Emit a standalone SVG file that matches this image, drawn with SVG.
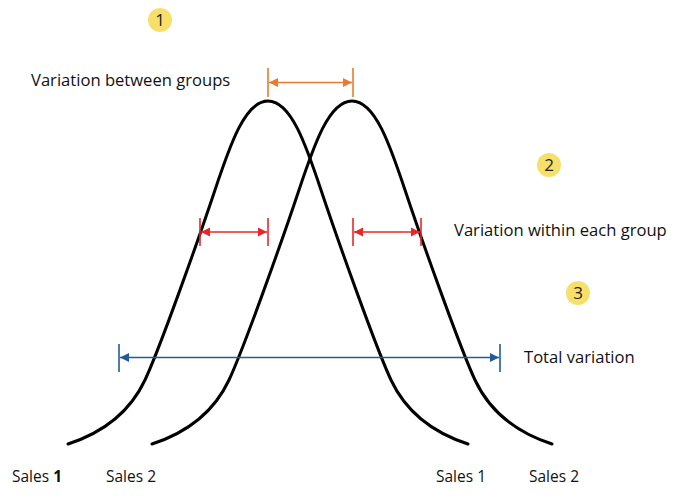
<svg xmlns="http://www.w3.org/2000/svg" width="680" height="500" viewBox="0 0 680 500">
<defs>
<style>
.curve{fill:none;stroke:#000;stroke-width:3;stroke-linecap:round}
.lbl{font-family:"Open Sans","Liberation Sans",sans-serif;font-size:16.6px;fill:#111}
.sales{font-family:"Open Sans","Liberation Sans",sans-serif;font-size:15.5px;fill:#111}
.badge{fill:#F7E06A}
.num{font-family:"Open Sans","Liberation Sans",sans-serif;font-size:17px;fill:#222;text-anchor:middle}
.or{stroke:#EC7A2E;stroke-width:1.6;fill:none}
.rd{stroke:#E8262A;stroke-width:1.6;fill:none}
.bl{stroke:#1F5C99;stroke-width:1.6;fill:none}
</style>
<marker id="ahO" viewBox="0 0 10 10" refX="10" refY="5" markerWidth="9" markerHeight="10" markerUnits="userSpaceOnUse" orient="auto-start-reverse"><path d="M0,0L10,5L0,10z" fill="#EC7A2E"/></marker>
<marker id="ahR" viewBox="0 0 10 10" refX="10" refY="5" markerWidth="9" markerHeight="10" markerUnits="userSpaceOnUse" orient="auto-start-reverse"><path d="M0,0L10,5L0,10z" fill="#E8262A"/></marker>
<marker id="ahB" viewBox="0 0 10 10" refX="10" refY="5" markerWidth="9" markerHeight="10" markerUnits="userSpaceOnUse" orient="auto-start-reverse"><path d="M0,0L10,5L0,10z" fill="#1F5C99"/></marker>
</defs>
<rect width="680" height="500" fill="#fff"/>

<g id="curve1">
<path class="curve" d="M68,444 C105,432 130,412 145,380 C160,348 200,235 215,190 C230,145 245,101 268,101 C291,101 306,145 321,190 C336,235 376,348 391,380 C406,412 431,432 468,444"/>
</g>
<g id="curve2">
<path class="curve" d="M152,444 C189,432 214,412 229,380 C244,348 284,235 299,190 C314,145 329,101 352,101 C375,101 390,145 405,190 C420,235 460,348 475,380 C490,412 515,432 552,444"/>
</g>

<g id="connectors">
<g id="between">
<line class="or" x1="268" y1="68" x2="268" y2="97"/>
<line class="or" x1="353" y1="68" x2="353" y2="97"/>
<line class="or" x1="269" y1="82.5" x2="352" y2="82.5" marker-start="url(#ahO)" marker-end="url(#ahO)"/>
</g>
<g id="within-left">
<line class="rd" x1="200" y1="218" x2="200" y2="246"/>
<line class="rd" x1="268" y1="218" x2="268" y2="246"/>
<line class="rd" x1="201" y1="232" x2="267" y2="232" marker-start="url(#ahR)" marker-end="url(#ahR)"/>
</g>
<g id="within-right">
<line class="rd" x1="353" y1="218" x2="353" y2="246"/>
<line class="rd" x1="421" y1="218" x2="421" y2="246"/>
<line class="rd" x1="354" y1="232" x2="420" y2="232" marker-start="url(#ahR)" marker-end="url(#ahR)"/>
</g>
<g id="total">
<line class="bl" x1="119" y1="344" x2="119" y2="372"/>
<line class="bl" x1="500" y1="344" x2="500" y2="372"/>
<line class="bl" x1="120" y1="357.5" x2="499" y2="357.5" marker-start="url(#ahB)" marker-end="url(#ahB)"/>
</g>
</g>

<g id="badge1"><circle class="badge" cx="160" cy="20" r="12"/><text class="num" x="160" y="26">1</text></g>
<g id="badge2"><circle class="badge" cx="549" cy="165" r="12"/><text class="num" x="549" y="171">2</text></g>
<g id="badge3"><circle class="badge" cx="578" cy="293" r="12"/><text class="num" x="578" y="299">3</text></g>

<g id="label-between"><text class="lbl" x="31" y="86">Variation between groups</text></g>
<g id="label-within"><text class="lbl" x="454" y="236">Variation within each group</text></g>
<g id="label-total"><text class="lbl" x="524" y="363">Total variation</text></g>

<g id="sales-labels">
<text class="sales" x="12" y="482">Sales <tspan font-weight="bold">1</tspan></text>
<text class="sales" x="106" y="482">Sales 2</text>
<text class="sales" x="436" y="482">Sales 1</text>
<text class="sales" x="529" y="482">Sales 2</text>
</g>
</svg>
